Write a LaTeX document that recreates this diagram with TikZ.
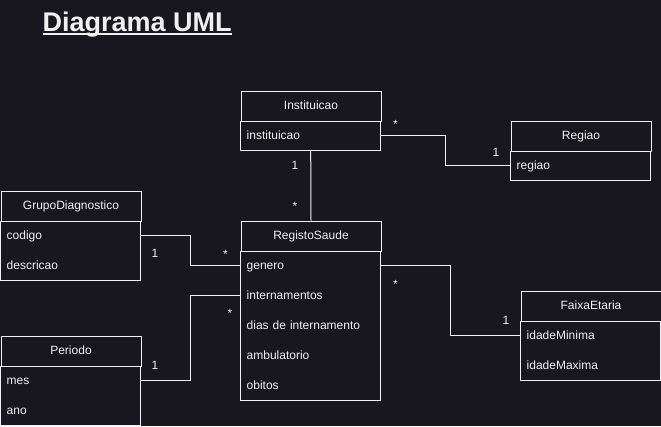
\documentclass[tikz,border=0pt]{standalone}
\usepackage{fontspec}
\setmainfont{Liberation Sans}
\usetikzlibrary{calc}
\definecolor{bg}{RGB}{24,23,31}
\definecolor{fg}{RGB}{240,240,240}
\begin{document}
\begin{tikzpicture}[x=1pt,y=-1pt,
  every node/.style={text=fg, font=\fontsize{12}{14}\selectfont},
  hdr/.style={draw=fg, line width=1pt, minimum width=140pt, minimum height=30pt,
    inner sep=0pt, anchor=north west, text height=9pt, text depth=2pt},
  attr/.style={minimum width=140pt, minimum height=30pt, inner xsep=6pt, inner ysep=0pt,
    text width=128pt, align=left, anchor=north west, text height=9pt, text depth=2pt},
  comp/.style={draw=fg, line width=1pt},
  conn/.style={draw=fg, line width=1pt},
  mult/.style={anchor=base, inner sep=0pt},
  titlestyle/.style={anchor=base west, inner sep=0pt, font=\fontsize{27}{30}\selectfont\bfseries}
]
\fill[bg] (0,0) rectangle (661,426);
\useasboundingbox (0,0) rectangle (661,426);

% title
\node[titlestyle] (title) at (42.5,31.7) {Diagrama UML};
\draw[fg, line width=2.2pt] ($(title.base west)+(0,2)$) coordinate (ulA) -- ($(title.base east)+(0,2)$) coordinate (ulB);

% Instituicao
\node[hdr] (instH) at (240.5,90.5) {Instituicao};
\node[attr] (instA) at (240.5,120.5) {instituicao};
\draw[comp] (instH.south west) rectangle (instA.south east);

% Regiao
\node[hdr] (regH) at (510.5,120.5) {Regiao};
\node[attr] (regA) at (510.5,150.5) {regiao};
\draw[comp] (regH.south west) rectangle (regA.south east);

% GrupoDiagnostico
\node[hdr] (grpH) at (0.5,190.5) {GrupoDiagnostico};
\node[attr] (grpA) at (0.5,220.5) {codigo};
\node[attr] (grpB) at (0.5,250.5) {descricao};
\draw[comp] (grpH.south west) rectangle (grpB.south east);

% RegistoSaude
\node[hdr] (rsH) at (240.5,220.5) {RegistoSaude};
\node[attr] (rsA) at (240.5,250.5) {genero};
\node[attr] (rsB) at (240.5,280.5) {internamentos};
\node[attr] (rsC) at (240.5,310.5) {dias de internamento};
\node[attr] (rsD) at (240.5,340.5) {ambulatorio};
\node[attr] (rsE) at (240.5,370.5) {obitos};
\draw[comp] (rsH.south west) rectangle (rsE.south east);

% Periodo
\node[hdr] (perH) at (0.5,335.5) {Periodo};
\node[attr] (perA) at (0.5,365.5) {mes};
\node[attr] (perB) at (0.5,395.5) {ano};
\draw[comp] (perH.south west) rectangle (perB.south east);

% FaixaEtaria
\node[hdr] (faH) at (520.5,290.5) {FaixaEtaria};
\node[attr] (faA) at (520.5,320.5) {idadeMinima};
\node[attr] (faB) at (520.5,350.5) {idadeMaxima};
\draw[comp] (faH.south west) rectangle (faB.south east);

% connectors
\draw[conn] (instA.east) -| ($(instA.east)!0.5!(regA.west)$) |- (regA.west);
\draw[conn] (instA.south) -- (rsH.north);
\draw[conn] (grpA.east) -| ($(grpA.east)!0.5!(rsA.west)$) |- (rsA.west);
\draw[conn] (perA.east) -| ($(perA.east)!0.5!(rsB.west)$) |- (rsB.west);
\draw[conn] (rsA.east) -| ($(rsA.east)!0.5!(faA.west)$) |- (faA.west);

% multiplicities
\node[mult] (m1) at (395.5,128) {*};
\node[mult] (m2) at (496,156.3) {1};
\node[mult] (m3) at (295,169.3) {1};
\node[mult] (m4) at (295,210) {*};
\node[mult] (m5) at (155,257) {1};
\node[mult] (m6) at (225.5,258) {*};
\node[mult] (m7) at (155,369.3) {1};
\node[mult] (m8) at (230,317) {*};
\node[mult] (m9) at (395.5,288) {*};
\node[mult] (m10) at (506,324.3) {1};
\end{tikzpicture}
\end{document}
